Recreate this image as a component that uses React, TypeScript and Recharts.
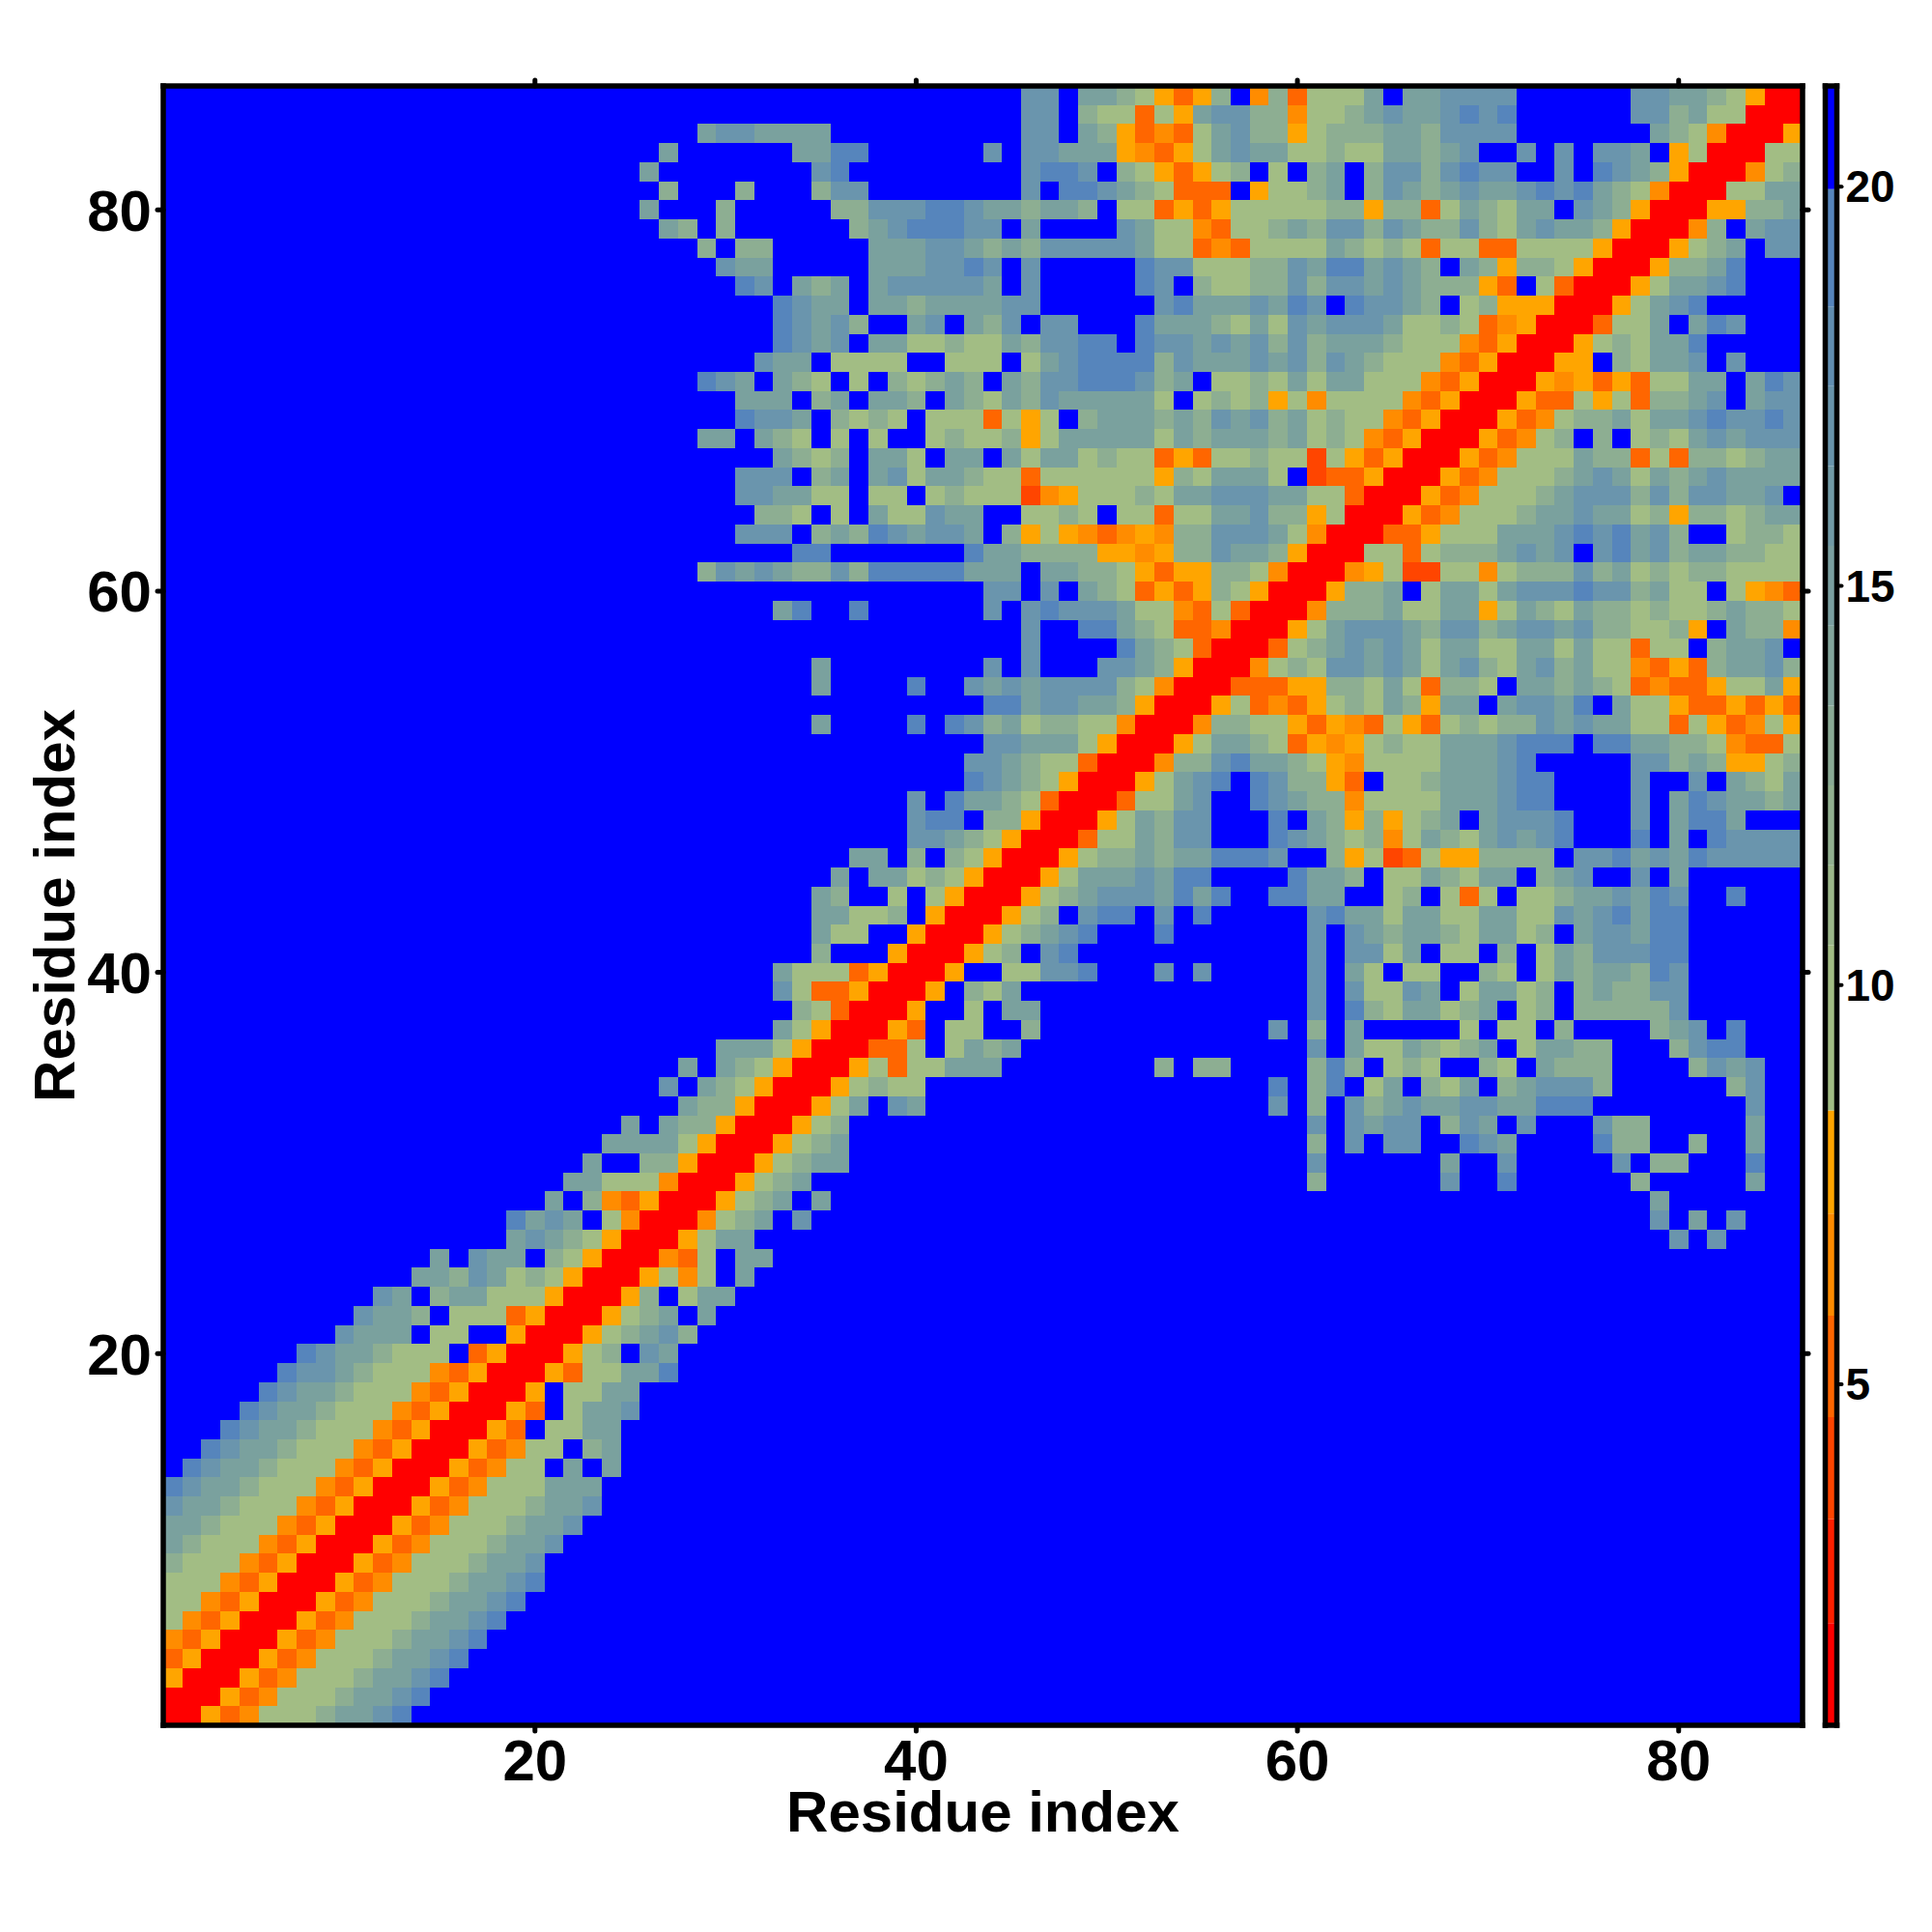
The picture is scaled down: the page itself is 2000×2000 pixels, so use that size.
import React from "react";
import {
  ScatterChart, Scatter, XAxis, YAxis, BarChart, Bar,
} from "recharts";

const FONT = '"Liberation Sans", Arial, sans-serif';

// Each string is one heat-map row, top (86) to bottom (1). Segments are "column:cells";
// '.' and uncovered columns are the out-of-range (blue) level.
const rowsTop: string[] = [
  "46:dd.ccba535b.4b3aaac 66:ccdddd 78:ddccba500",
  "46:dd.baa3a5cddbb4aabcd 66:ccdede 78:ddbcaa000",
  "29:cddcccc 46:dd.cb5343acdbb5abbbccbdddd 79:cba40005",
  "27:c 34:ccee 44:d 46:ddccc5435a 56:cdccaabaac 66:cbcd..d.d. 76:ddc.5a000a 86:a",
  "26:c 35:de 46:deed.ba535 56:ab.a.bc.bd 66:dbdedd..d. 76:edcb50004a 86:b",
  "27:b 31:b 35:bdd 46:d.eedcba33 56:3.5aabc.bd 66:cbcdccdede 76:cba4000aac 86:c",
  "26:c 30:b 36:bbdddeedcc 46:bccb.aa353 56:5aaaaabb5b 66:b3acbacc.d 76:cb500055bb 86:c",
  "27:cb 30:b 37:bcdeeedd.c 51:dcaa43 57:aabcbddbdc 67:bbdbacdccb 77:50004b.cdd",
  "29:b 31:bb 38:cccddcbc 46:bdddddcaa3 56:43aaaacbab 66:a3aa33aaaa 76:50005abc.d 86:d",
  "30:dcc 38:cccdded.d 52:eddaaabbdc 62:eecdcb.cb5 72:bba50005bb 82:ce",
  "31:ed 34:cbc 38:cdddddc.d 52:ed.baabbdb 62:ddcdcbbb53 72:.a30005acc 82:de",
  "33:edcc 38:ccbccccdd 53:decccdced. 63:eddcb.ab55 73:50005acde",
  "33:edcdb 40:cd 43:cbd.dd 52:ecccbacadc 62:dddcaaba34 72:50003aac.c 82:ed",
  "33:edcd 38:ccaabaacbd 48:dee.eddcdc 58:dbdbcccbaa 68:a4350005ab 78:acce",
  "32:dcc 36:aaaa 42:aaa.acdeee 52:ebdcccdcdb 62:dcbaaa4350 72:0055.baccd 83:d",
  "29:edc 33:cba 37:a 39:babcb 45:cbddeeedbc 55:.aabacacca 65:aa43500054 75:5353aacc.c 85:ed",
  "31:ccc 35:bc 38:ccb 42:cbacbdcccc 52:ca.abab5a4 62:aaaa435000 72:533a5a3bbc 82:d.cdd",
  "31:eddc 36:baba 41:aaa3a5a.bc 51:ccbcbdcdbc 61:abaa435000 71:534abbcacc 81:dedded",
  "29:cc 32:cba 36:a 38:a 41:abaab5accc 51:ccacbcccbc 61:aba4350005 71:34ab.b.aba 81:cdcddd",
  "33:cbab 38:cca 42:cc.caccaba 52:a353aabaa2 62:a535000534 72:aaacbb3a3b 82:babcc",
  "31:ddd 35:bc 38:cdaccbaa3a 48:aaaaa5bacc 58:ca.2335000 68:534aaabcdc 78:acbcdcccc",
  "31:ddccaa 38:aa 41:abaaa245aa 51:abaccdddcc 61:aa3000534a 71:aabcdddbdb 81:ddccd",
];
const rowsUpperMiddle: string[] = [
  "32:bba 36:a 38:caadcc 46:aaba 51:aa3aaccdbb 61:5a000534aa 71:abccdccab5 81:bbabcc",
  "31:ddd 35:bcbedcddc 45:b5a543454b 55:bdddca4000 65:335aaacccd 75:edecdb..ab 85:ba",
  "34:ee 43:eccbbbb554 53:5bbdccb500 63:0aa3abbbcd 73:cd.decdbcc 83:bbaa",
  "29:bdcdcbbdbe 39:eeeeccc.cc 49:bba5355bba 59:400045a22a 69:a4abbbdbca 79:babbaaaa",
  "44:dd 47:d 49:cba3535ba5 59:0005bbc.ac 69:cacdddeddb 79:caa.a543",
  "33:ce 37:e 44:d 46:dedddcaa43 56:a30004bbbc 66:aacc5acbac 76:bbabaabcbb 86:a",
  "46:d 49:eecba33400 59:05acdddcbd 69:dbcddcdbba 79:ab5.cbb4",
  "46:d 51:ecba30003a 61:bcdcdcacca 71:accacaa3aa 82:bccd",
  "35:c 44:d 46:d 50:ddcb50004a 60:baddcdcacd 70:bacdbcaa43 80:53bccdb",
  "35:c 40:e 43:dcdcddddba 53:400033355b 63:baca3bba.c 73:cbcba34335 83:aac5",
  "44:eecddccb50 54:005a3435ab 64:acb5cc.cdd 74:ce.caa5335 84:353",
  "35:c 40:e 42:edbcabbaa4 52:0004bbaa53 62:543a53abab 72:bdcdccaa3a 82:534a5",
  "44:ddccca5000 54:5accba3545 64:abaacccdee 74:e.eeccbba4 84:33a",
  "43:ddcbaa3000 53:4bbdeccba5 63:4aaaacccde 78:ddbcb55ab",
  "43:edcba50005 53:acde.edbb5 63:3.aabcccde 73:e 78:d 81:d 83:cbac",
  "40:d 42:eccba30003 52:aacd..edcb 62:b4aaaacccd 72:ee 78:d 80:cedccbc",
  "40:dee 44:bb50005acb 54:dd 59:e 61:cb5b5abc.c 71:ddde 78:d 80:ceec",
  "40:ddcba50003 50:aacbdd 59:edcbab4acb 69:acdcde 78:e 80:c 82:edddd",
  "37:cc 40:b 42:ba50005abb 52:cbcceeed 62:b5a23a55bb 72:bb.ddecdce 82:ddddd",
  "36:c 38:ccaba50005 48:acccdcee 60:eccb 65:aacbacc.bc 75:d 78:d 80:c",
  "35:cb 39:a 41:a50005abcd 51:ddcece 59:eecc 65:ab 68:a3a 72:aabccdced 83:e",
  "35:ccaab 41:50005ab 49:dee 53:d 55:e 61:deccaccaac 71:caadcdecee",
];
const rowsLowerMiddle: string[] = [
  "35:caa 40:50005abcde 53:e 61:d 63:dcbccbacca 73:b 75:cddcee",
  "35:b 39:50005ab 47:de 61:d 63:ddac 68:aa 71:b 73:acbdddee",
  "33:caaa350005 45:aadde 53:d 55:d 61:d 63:ca 66:aa 70:ba 73:acbccbed",
  "33:da3350005 43:bac 61:d 63:daadc 69:accab 75:bcbbdd",
  "34:ba30005 43:a 45:cc 61:d 63:ebaccabc 72:ab 75:bbbbbd",
  "33:ca500053 42:aa 46:b 59:d 61:b 63:c 69:a 71:aa 74:b 79:bcd 83:e",
  "30:ccca500033 40:a 42:acbc 61:d 63:caacbabc 72:accbb 80:bdee",
  "28:c 30:cba50005a3 40:aaccc 53:b 55:bb 61:beb 65:aba 70:ba 73:cbbb 81:bdcd",
  "27:d 29:cba50005ab 39:aa 59:e 61:be 64:ac 67:bac 71:bcdddb 83:bd",
  "28:cbb50005ac 39:dc 59:d 61:b 63:dbcdccddcc 73:eee 84:d",
  "25:c 27:cbb50005ab 61:d 63:dcdd 68:bdc 72:d 76:dbb 84:c",
  "24:cccca50005 34:abc 61:b 63:d 65:dd 69:edc 76:ebb 81:b 84:c",
  "23:c 26:bb50005abc 36:c 61:d 68:c 71:d 77:d 79:bb 84:e",
  "22:ccaaa40005 32:abc 61:b 68:d 71:e 78:b 84:c",
  "21:c 23:b4350005ab 33:c 35:c 79:c",
  "19:ecdc 24:a40004abc 34:d 79:d 81:c 83:d",
  "19:cdcba50005 29:acc 80:d 82:d",
  "15:c 17:dcc 21:ba500043a 31:cc",
  "14:ccbdcaba50 24:005a4a 31:c",
  "12:dc 15:bccaaa5000 25:5b 28:acc",
  "11:dccb 16:aaa350005a 26:bc 29:c",
];
const rowsBottom: string[] = [
  "10:dccc 15:aa 19:50005abcdb",
  "8:edccbaaa 17:350005ab 26:dc",
  "7:eddcbaaa43 17:500053aacce",
  "6:edccbaaa43 16:50005 22:aacc",
  "5:edccbaaa43 15:500053 22:accd",
  "4:edccbaaa43 14:500053 21:aacc",
  "3:edccbaaa43 13:5000534aa 23:bc",
  "2:edccbaaa43 12:5000534aa 22:c 24:c",
  "1:edccbaaa43 11:5000534aaa 21:ccc",
  "1:dccbaaa435 11:000534aaab 21:ccd",
  "1:ccbaaa4350 11:00534aaabc 21:cd",
  "1:cbaaa43500 11:0534aaabcc 21:d",
  "1:baaa435000 11:534aaabccd",
  "1:aaa4350005 11:34aaabccde",
  "1:aa43500053 11:4aaabccde",
  "1:a435000534 11:aaabccde",
  "1:435000534a 11:aabccde",
  "1:35000534aa 11:abccde",
  "1:5000534aaa 11:bccde",
  "1:000534aaab 11:ccde",
  "1:00534aaabc 11:cde",
];

const levelColor: Record<string, string> = {
  ".": "#0000FF", "0": "#FF0000", "2": "#FF4500", "3": "#FF6600", "4": "#FF8C00", "5": "#FFA500",
  a: "#A2BD84", b: "#8DAE92", c: "#7AA19E", d: "#6A95AD", e: "#5685BC",
};

const residueTicks = [20, 40, 60, 80];
const scaleTicks = [5, 10, 15, 20];
const scaleEdges = [0.73, 2.01, 3.31, 4.59, 5.86, 7.14, 8.43, 10.5, 11.5, 12.5, 13.5, 14.5, 15.5, 16.5, 17.5, 18.5, 19.97, 21.26];
const scaleColors = [
  "#FF0000", "#FF2000", "#FF4500", "#FF6600", "#FF8C00", "#FFA500",
  "#A2BD84", "#9BB78A", "#92B190", "#8AAB95", "#82A59B", "#7A9FA0", "#719AA6", "#6994AB", "#618EB1", "#5685BC",
  "#0000FF",
];

const allRows = [...rowsTop, ...rowsUpperMiddle, ...rowsLowerMiddle, ...rowsBottom];
const N = 86;

function buildCells() {
  const out: { col: number; row: number; level: string }[] = [];
  allRows.forEach((text, i) => {
    const row = N - i;
    const line: string[] = Array(N + 1).fill(".");
    text.split(" ").forEach((seg) => {
      const [start, cells] = seg.split(":");
      const s = Number(start);
      for (let k = 0; k < cells.length; k++) if (s + k <= N) line[s + k] = cells[k];
    });
    for (let col = 1; col <= N; col++) out.push({ col, row, level: line[col] });
  });
  return out;
}
const cells = buildCells();

const scaleRow: Record<string, number | string> = { name: "z" };
scaleColors.forEach((_, i) => {
  scaleRow[`b${i}`] = i === 0 ? scaleEdges[1] : scaleEdges[i + 1] - scaleEdges[i];
});
const scaleData = [scaleRow];

const PLOT_L = 169;
const PLOT_R = 1866;
const PLOT_T = 89;
const PLOT_B = 1786;
const CELL = (PLOT_R - PLOT_L) / N;
const RESIDUE_DOMAIN: [number, number] = [0.5, 86.5];
const SCALE_DOMAIN: [number, number] = [0.73, 21.26];

const frame = { stroke: "#000", strokeWidth: 5.5, strokeLinecap: "square" as const };
const tick = { stroke: "#000", strokeWidth: 5, strokeLinecap: "round" as const };
const labelFont = { fontFamily: FONT, fontWeight: 700, fill: "#000" };
const layer: React.CSSProperties = { position: "absolute", top: 0 };

const HeatCell = (p: any) => (
  <rect
    x={p.cx - CELL / 2}
    y={p.cy - CELL / 2}
    width={CELL + 0.4}
    height={CELL + 0.4}
    fill={levelColor[p.payload.level]}
    shapeRendering="crispEdges"
  />
);
const NoMark = () => null;

export default function App() {
  return (
    <div style={{ position: "absolute", left: 0, top: 0, width: 2000, height: 2000, background: "#fff" }}>
      {/* heat-map cells */}
      <div style={{ ...layer, left: 0 }}>
        <ScatterChart
          width={2000}
          height={2000}
          margin={{ left: PLOT_L, right: 2000 - PLOT_R, top: PLOT_T, bottom: 2000 - PLOT_B }}
        >
          <XAxis type="number" dataKey="col" domain={RESIDUE_DOMAIN} hide />
          <YAxis type="number" dataKey="row" domain={RESIDUE_DOMAIN} hide />
          <Scatter data={cells} isAnimationActive={false} shape={HeatCell} />
        </ScatterChart>
      </div>
      {/* frame, ticks and labels above the cells */}
      <div style={{ ...layer, left: 0 }}>
        <ScatterChart
          width={2000}
          height={2000}
          margin={{ left: PLOT_L - 140, right: 2000 - PLOT_R - 20, top: PLOT_T - 20, bottom: 2000 - PLOT_B - 110 }}
        >
          <XAxis
            xAxisId="b" type="number" dataKey="col" domain={RESIDUE_DOMAIN} ticks={residueTicks} interval={0} orientation="bottom"
            height={110} tickSize={6} tickMargin={8} axisLine={frame} tickLine={tick}
            tick={{ ...labelFont, fontSize: 60 }}
            label={{ value: "Residue index", position: "insideBottom", offset: 0, style: { ...labelFont, fontSize: 60 } }}
          />
          <XAxis
            xAxisId="t" type="number" dataKey="col" domain={RESIDUE_DOMAIN} ticks={residueTicks} interval={0} orientation="top"
            height={20} tickSize={6} axisLine={frame} tickLine={tick} tick={{ fontSize: 1, fill: "none" }}
          />
          <YAxis
            yAxisId="l" type="number" dataKey="row" domain={RESIDUE_DOMAIN} ticks={residueTicks} interval={0} orientation="left"
            width={140} tickSize={6} tickMargin={6} axisLine={frame} tickLine={tick}
            tick={{ ...labelFont, fontSize: 60 }}
            label={{ value: "Residue index", angle: -90, position: "insideLeft", offset: 27, style: { ...labelFont, fontSize: 60, textAnchor: "middle" } }}
          />
          <YAxis
            yAxisId="r" type="number" dataKey="row" domain={RESIDUE_DOMAIN} ticks={residueTicks} interval={0} orientation="right"
            width={20} tickSize={6} axisLine={frame} tickLine={tick} tick={{ fontSize: 1, fill: "none" }}
          />
          <Scatter xAxisId="b" yAxisId="l" data={cells.slice(0, 1)} isAnimationActive={false} shape={NoMark} />
          <Scatter xAxisId="t" yAxisId="r" data={cells.slice(0, 1)} isAnimationActive={false} shape={NoMark} />
        </ScatterChart>
      </div>
      {/* colour scale bands */}
      <div style={{ ...layer, left: 1850 }}>
        <BarChart
          width={150}
          height={2000}
          data={scaleData}
          barCategoryGap={0}
          margin={{ left: 39.5, right: 98.5, top: PLOT_T, bottom: 2000 - PLOT_B }}
        >
          <XAxis dataKey="name" hide />
          <YAxis type="number" domain={SCALE_DOMAIN} allowDataOverflow hide />
          {scaleColors.map((c, i) => (
            <Bar key={c} dataKey={`b${i}`} stackId="scale" fill={c} isAnimationActive={false} />
          ))}
        </BarChart>
      </div>
      {/* colour scale frame and labels */}
      <div style={{ ...layer, left: 1850 }}>
        <BarChart
          width={150}
          height={2000}
          data={scaleData}
          margin={{ left: 29.5, right: 8.5, top: PLOT_T - 10, bottom: 2000 - PLOT_B - 10 }}
        >
          <XAxis xAxisId="b" dataKey="name" orientation="bottom" height={10} axisLine={frame} tickLine={false} tick={false} />
          <XAxis xAxisId="t" dataKey="name" orientation="top" height={10} axisLine={frame} tickLine={false} tick={false} />
          <YAxis yAxisId="l" type="number" domain={SCALE_DOMAIN} allowDataOverflow orientation="left" width={10} axisLine={frame} tickLine={false} tick={false} />
          <YAxis
            yAxisId="r" type="number" domain={SCALE_DOMAIN} allowDataOverflow orientation="right" width={90}
            ticks={scaleTicks} tickSize={5} tickMargin={4} axisLine={frame} tickLine={{ ...tick, strokeWidth: 4 }}
            tick={{ ...labelFont, fontSize: 46, textAnchor: "start" }}
          />
          <Bar xAxisId="b" yAxisId="r" dataKey="none" isAnimationActive={false} />
          <Bar xAxisId="t" yAxisId="l" dataKey="none" isAnimationActive={false} />
        </BarChart>
      </div>
    </div>
  );
}
